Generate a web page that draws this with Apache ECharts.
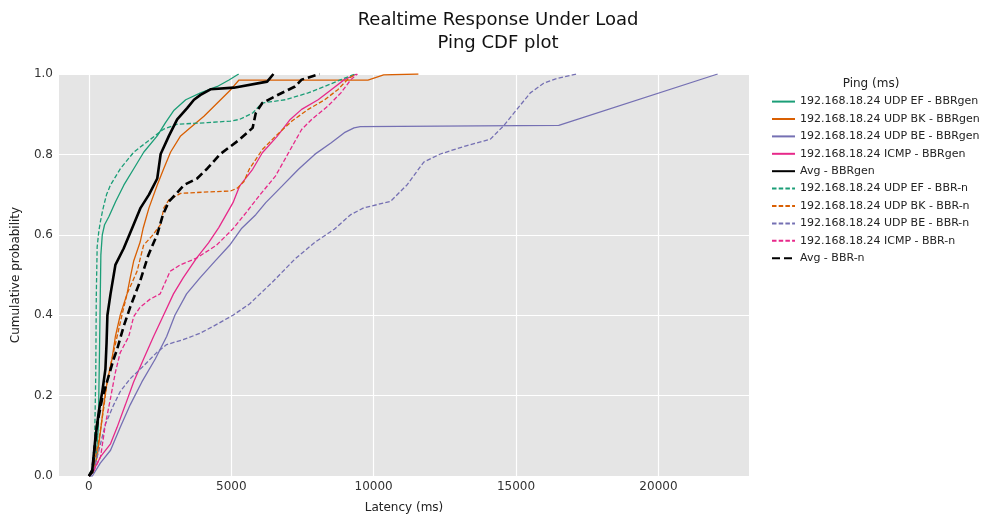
<!DOCTYPE html>
<html>
<head>
<meta charset="utf-8">
<script src="https://cdn.jsdelivr.net/npm/echarts@6/dist/echarts.min.js"></script>
<style>
  html, body { margin: 0; padding: 0; background: #fff; }
  #chart { width: 990px; height: 519px; }
</style>
</head>
<body>
<div id="chart"></div>
<script>
// latency (ms), cumulative probability
var efGen = [[0,0],[150,0.01],[250,0.04],[330,0.12],[370,0.3],[400,0.45],[420,0.55],[470,0.6],[550,0.625],[700,0.645],[940,0.683],[1230,0.724],[1580,0.765],[1930,0.806],[2400,0.846],[2690,0.879],[2990,0.91],[3400,0.936],[3920,0.953],[4510,0.969],[4920,0.985],[5260,1.0]];
var bkGen = [[0,0],[150,0.01],[290,0.048],[410,0.113],[520,0.177],[640,0.234],[810,0.291],[930,0.347],[1100,0.4],[1340,0.453],[1450,0.493],[1570,0.534],[1800,0.582],[1900,0.615],[2000,0.64],[2110,0.667],[2400,0.724],[2630,0.765],[2870,0.806],[3220,0.846],[3570,0.867],[4040,0.895],[4510,0.928],[4980,0.961],[5270,0.985],[9800,0.985],[10350,0.998],[11570,1.0]];
var beGen = [[0,0],[120,0.0],[400,0.032],[760,0.064],[1100,0.121],[1450,0.177],[1860,0.234],[2330,0.291],[2730,0.347],[3020,0.4],[3430,0.453],[3900,0.493],[4420,0.534],[4940,0.574],[5350,0.615],[5860,0.65],[6210,0.68],[6780,0.721],[7360,0.763],[7930,0.8],[8510,0.829],[8970,0.854],[9310,0.866],[9530,0.869],[16500,0.872],[22080,1.0]];
var icmpGen = [[0,0],[170,0.015],[410,0.048],[760,0.08],[990,0.121],[1280,0.177],[1570,0.234],[1920,0.291],[2270,0.347],[2620,0.4],[2970,0.453],[3310,0.493],[3780,0.542],[4200,0.58],[4560,0.618],[5060,0.68],[5290,0.721],[5750,0.763],[6090,0.804],[6610,0.845],[7070,0.887],[7470,0.912],[8050,0.936],[8510,0.961],[8970,0.986],[9400,1.0]];
var avgGen = [[0,0],[120,0.015],[230,0.096],[350,0.161],[470,0.21],[580,0.266],[620,0.331],[650,0.4],[760,0.453],[930,0.525],[1220,0.566],[1510,0.615],[1815,0.667],[2110,0.7],[2400,0.74],[2520,0.801],[2810,0.846],[3100,0.887],[3450,0.915],[3690,0.936],[3920,0.948],[4270,0.962],[5090,0.966],[6260,0.981],[6480,1.0]];
var efN = [[0,0],[120,0.02],[200,0.08],[240,0.25],[260,0.45],[290,0.57],[350,0.61],[410,0.635],[480,0.66],[530,0.675],[620,0.7],[760,0.724],[1110,0.765],[1580,0.806],[2170,0.838],[2630,0.863],[3100,0.875],[4160,0.879],[4980,0.883],[5290,0.887],[5750,0.903],[6090,0.928],[6900,0.936],[7700,0.953],[8280,0.969],[8850,0.986],[9350,1.0]];
var bkN = [[0,0],[120,0.01],[350,0.088],[520,0.169],[640,0.234],[810,0.291],[990,0.347],[1160,0.4],[1340,0.453],[1690,0.509],[1920,0.574],[2250,0.6],[2520,0.626],[2630,0.667],[2810,0.687],[3220,0.703],[4000,0.706],[4975,0.709],[5210,0.716],[5440,0.732],[5630,0.763],[6090,0.812],[6550,0.845],[7130,0.883],[7700,0.912],[8280,0.936],[8740,0.961],[9080,0.986],[9350,1.0]];
var beN = [[0,0],[170,0.015],[350,0.064],[580,0.129],[870,0.177],[1100,0.21],[1450,0.242],[1920,0.274],[2380,0.307],[2730,0.327],[3310,0.339],[3900,0.355],[4360,0.372],[5060,0.4],[5640,0.428],[6440,0.482],[7240,0.54],[7930,0.581],[8620,0.614],[9190,0.65],[9650,0.667],[10590,0.683],[11170,0.724],[11760,0.781],[12340,0.801],[13280,0.822],[14100,0.838],[14560,0.871],[15030,0.912],[15500,0.953],[15970,0.977],[16440,0.989],[17140,1.0]];
var icmpN = [[0,0],[150,0.01],[410,0.048],[580,0.129],[760,0.194],[930,0.258],[1100,0.307],[1400,0.347],[1570,0.396],[1800,0.42],[2150,0.44],[2500,0.453],[2850,0.509],[3200,0.525],[3780,0.542],[4480,0.574],[5060,0.615],[5520,0.655],[5980,0.697],[6550,0.746],[7010,0.804],[7470,0.862],[7820,0.887],[8390,0.92],[8850,0.953],[9200,0.986],[9430,1.0]];
var avgN = [[0,0],[120,0.01],[170,0.048],[290,0.129],[470,0.194],[700,0.25],[870,0.291],[990,0.315],[1220,0.372],[1450,0.42],[1800,0.485],[2090,0.55],[2400,0.601],[2600,0.65],[2810,0.683],[3040,0.7],[3340,0.724],[3800,0.74],[4160,0.765],[4600,0.8],[5290,0.837],[5750,0.866],[5860,0.903],[6090,0.928],[6550,0.945],[7240,0.969],[7470,0.986],[8100,1.0]];

var seriesNames = [
  '192.168.18.24 UDP EF - BBRgen', '192.168.18.24 UDP BK - BBRgen',
  '192.168.18.24 UDP BE - BBRgen', '192.168.18.24 ICMP - BBRgen', 'Avg - BBRgen',
  '192.168.18.24 UDP EF - BBR-n', '192.168.18.24 UDP BK - BBR-n',
  '192.168.18.24 UDP BE - BBR-n', '192.168.18.24 ICMP - BBR-n', 'Avg - BBR-n'
];
var seriesData = [efGen, bkGen, beGen, icmpGen, avgGen, efN, bkN, beN, icmpN, avgN];
var xTicks = [0, 5000, 10000, 15000, 20000];

var colors = ['#1b9e77', '#d95f02', '#7570b3', '#e7298a', '#000000'];
var font = 'DejaVu Sans';

var series = seriesData.map(function (d, i) {
  var isAvg = (i % 5) === 4;
  var dashed = i >= 5;
  return {
    name: seriesNames[i],
    type: 'line',
    data: d,
    showSymbol: false,
    symbol: 'none',
    silent: true,
    z: isAvg ? 3 : 2,
    lineStyle: {
      color: colors[i % 5],
      width: isAvg ? 2.6 : 1.3,
      type: dashed ? (isAvg ? [8, 4] : [4.5, 2.2]) : 'solid'
    },
    itemStyle: { color: colors[i % 5] }
  };
});

var chart = echarts.init(document.getElementById('chart'));
chart.setOption({
  animation: false,
  backgroundColor: '#ffffff',
  textStyle: { fontFamily: font },
  title: [{
    text: 'Realtime Response Under Load\nPing CDF plot',
    left: 493, top: 4, textAlign: 'center',
    textStyle: { fontFamily: font, fontSize: 18, fontWeight: 'normal', color: '#111', lineHeight: 23 }
  }, {
    text: 'Ping (ms)',
    left: 866, top: 73, textAlign: 'center',
    textStyle: { fontFamily: font, fontSize: 12, fontWeight: 'normal', color: '#222' }
  }],
  legend: {
    data: seriesNames,
    orient: 'vertical',
    left: 771, top: 96, padding: 0,
    itemWidth: 23, itemHeight: 14, itemGap: 6.2,
    itemStyle: { opacity: 0 },
    textStyle: { fontFamily: font, fontSize: 11, color: '#222' }
  },
  grid: { left: 59, right: 241, top: 74, bottom: 37, show: true, backgroundColor: '#e5e5e5', borderWidth: 0 },
  xAxis: {
    type: 'value', min: -1050, max: 23180,
    name: 'Latency (ms)', nameLocation: 'middle', nameGap: 26,
    nameTextStyle: { fontFamily: font, fontSize: 12, color: '#222' },
    axisLine: { show: false },
    axisTick: { show: false, customValues: xTicks },
    axisLabel: { customValues: xTicks, fontFamily: font, fontSize: 12, color: '#333', margin: 5,
      formatter: function (v) { return String(v); } },
    splitLine: { show: true, lineStyle: { color: '#ffffff', width: 1.2 } }
  },
  yAxis: {
    type: 'value', min: 0, max: 1, interval: 0.2,
    name: 'Cumulative probability', nameLocation: 'middle', nameGap: 37,
    nameTextStyle: { fontFamily: font, fontSize: 12, color: '#222' },
    axisLine: { show: false },
    axisTick: { show: false },
    axisLabel: { fontFamily: font, fontSize: 12, color: '#333', margin: 6,
      formatter: function (v) { return v.toFixed(1); } },
    splitLine: { show: true, lineStyle: { color: '#ffffff', width: 1.2 } }
  },
  series: series
});
</script>
</body>
</html>
